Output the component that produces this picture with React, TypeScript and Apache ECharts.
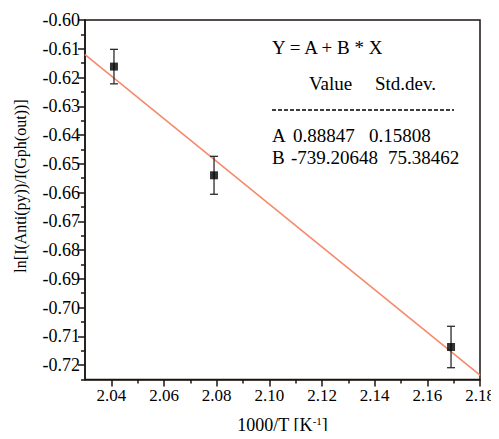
import React, { useEffect, useRef } from "react";
import * as echarts from "echarts";

// ---- data ----
const tempX = [2.041, 2.079, 2.169];
const lnRatio = [-0.6162, -0.654, -0.7137];
const errBars = [0.006, 0.0066, 0.0072];

const fitX = [2.03, 2.18];
const fitY = [-0.612, -0.7235];

const xMajorTicks = [2.04, 2.06, 2.08, 2.1, 2.12, 2.14, 2.16, 2.18];
const xMinorTicks = [2.05, 2.07, 2.09, 2.11, 2.13, 2.15, 2.17];
const yMajorTicks = [-0.72, -0.71, -0.7, -0.69, -0.68, -0.67, -0.66, -0.65, -0.64, -0.63, -0.62, -0.61, -0.6];
const yMinorTicks = [-0.725, -0.715, -0.705, -0.695, -0.685, -0.675, -0.665, -0.655, -0.645, -0.635, -0.625, -0.615, -0.605];

const fitHeader = "Y = A + B * X";
const colHeaders = ["Value", "Std.dev."];
const paramNames = ["A", "B"];
const paramValues = ["0.88847", "-739.20648"];
const paramStdDev = ["0.15808", "75.38462"];

const FONT = "Liberation Serif";
const AXIS = "#1b1410";

export default function App() {
  const ref = useRef<HTMLDivElement>(null);

  useEffect(() => {
    if (!ref.current) return;
    const chart = echarts.init(ref.current, undefined, { renderer: "svg" });

    const scatterData = tempX.map((x, i) => [x, lnRatio[i]]);
    const errData = tempX.map((x, i) => [x, lnRatio[i], errBars[i]]);
    const fitData = fitX.map((x, i) => [x, fitY[i]]);

    const tStyle = { fontFamily: FONT, fontSize: 19, fill: "#000" };

    const option: any = {
      animation: false,
      backgroundColor: "#fff",
      textStyle: { fontFamily: FONT },
      grid: {
        left: 85,
        right: 19,
        top: 20,
        bottom: 58,
        show: true,
        borderColor: AXIS,
        borderWidth: 1.5,
        backgroundColor: "transparent",
      },
      xAxis: [
        {
          type: "value",
          min: 2.03,
          max: 2.18,
          splitLine: { show: false },
          axisLine: { show: true, onZero: false, lineStyle: { color: AXIS, width: 1.5 } },
          axisTick: { show: true, customValues: xMajorTicks, length: 7, lineStyle: { color: AXIS, width: 1.5 } },
          axisLabel: {
            customValues: xMajorTicks,
            formatter: (v: number) => v.toFixed(2),
            fontFamily: FONT,
            fontSize: 17,
            color: "#000",
            margin: 7,
          },
          name: "1000/T [K{sup|-1}]",
          nameLocation: "middle",
          nameGap: 36,
          nameTextStyle: {
            fontFamily: FONT,
            fontSize: 18,
            color: "#000",
            rich: { sup: { fontFamily: FONT, fontSize: 11, color: "#000", verticalAlign: "top", padding: [0, 0, 8, 0] } },
          },
        },
        {
          type: "value",
          min: 2.03,
          max: 2.18,
          position: "bottom",
          splitLine: { show: false },
          axisLine: { show: false },
          axisTick: { show: true, customValues: xMinorTicks, length: 4, lineStyle: { color: AXIS, width: 1.5 } },
          axisLabel: { show: false },
        },
      ],
      yAxis: [
        {
          type: "value",
          min: -0.725,
          max: -0.6,
          splitLine: { show: false },
          axisLine: { show: true, onZero: false, lineStyle: { color: AXIS, width: 1.5 } },
          axisTick: { show: true, customValues: yMajorTicks, length: 7, lineStyle: { color: AXIS, width: 1.5 } },
          axisLabel: {
            customValues: yMajorTicks,
            formatter: (v: number) => v.toFixed(2),
            fontFamily: FONT,
            fontSize: 18,
            color: "#000",
            margin: 5,
          },
        },
        {
          type: "value",
          min: -0.725,
          max: -0.6,
          position: "left",
          splitLine: { show: false },
          axisLine: { show: false },
          axisTick: { show: true, customValues: yMinorTicks, length: 4, lineStyle: { color: AXIS, width: 1.5 } },
          axisLabel: { show: false },
        },
      ],
      graphic: [
        {
          type: "text",
          x: 20,
          y: 186,
          rotation: Math.PI / 2,
          style: {
            text: "ln[I(Anti(py))/I(Gph(out))]",
            fontFamily: FONT,
            fontSize: 16,
            fill: "#000",
            align: "center",
            verticalAlign: "middle",
          },
        },
        { type: "text", x: 272, y: 47, style: { ...tStyle, text: fitHeader, verticalAlign: "middle" } },
        { type: "text", x: 309, y: 83, style: { ...tStyle, text: colHeaders[0], verticalAlign: "middle" } },
        { type: "text", x: 375, y: 83, style: { ...tStyle, text: colHeaders[1], verticalAlign: "middle" } },
        {
          type: "line",
          shape: { x1: 272, y1: 110, x2: 454, y2: 110 },
          style: { stroke: "#000", lineWidth: 1.5, lineDash: [4, 2] },
        },
        { type: "text", x: 272, y: 135, style: { ...tStyle, text: paramNames[0], verticalAlign: "middle" } },
        { type: "text", x: 293, y: 135, style: { ...tStyle, text: paramValues[0], verticalAlign: "middle" } },
        { type: "text", x: 369, y: 135, style: { ...tStyle, text: paramStdDev[0], verticalAlign: "middle" } },
        { type: "text", x: 272, y: 157, style: { ...tStyle, text: paramNames[1], verticalAlign: "middle" } },
        { type: "text", x: 291, y: 157, style: { ...tStyle, text: paramValues[1], verticalAlign: "middle" } },
        { type: "text", x: 388, y: 157, style: { ...tStyle, text: paramStdDev[1], verticalAlign: "middle" } },
      ],
      series: [
        {
          type: "line",
          data: fitData,
          showSymbol: false,
          symbol: "none",
          lineStyle: { color: "#F58A6C", width: 1.6 },
          z: 2,
          silent: true,
        },
        {
          type: "custom",
          data: errData,
          z: 3,
          renderItem: (params: any, api: any) => {
            const x = api.value(0);
            const y = api.value(1);
            const e = api.value(2);
            const top = api.coord([x, y + e]);
            const bot = api.coord([x, y - e]);
            const cw = 4;
            const st = { stroke: "#2a2a2a", lineWidth: 1.3 };
            return {
              type: "group",
              children: [
                { type: "line", shape: { x1: top[0], y1: top[1], x2: bot[0], y2: bot[1] }, style: st },
                { type: "line", shape: { x1: top[0] - cw, y1: top[1], x2: top[0] + cw, y2: top[1] }, style: st },
                { type: "line", shape: { x1: bot[0] - cw, y1: bot[1], x2: bot[0] + cw, y2: bot[1] }, style: st },
              ],
            };
          },
        },
        {
          type: "scatter",
          data: scatterData,
          symbol: "rect",
          symbolSize: 8,
          itemStyle: { color: "#000" },
          z: 4,
        },
      ],
    };

    chart.setOption(option);
    return () => chart.dispose();
  }, []);

  return <div ref={ref} style={{ width: 499, height: 439, margin: -8 }} />;
}
